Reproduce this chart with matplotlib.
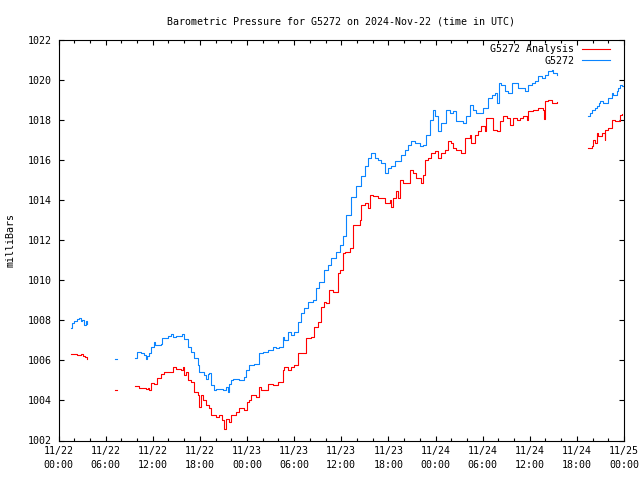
import matplotlib
matplotlib.use("Agg")
import matplotlib.pyplot as plt
import matplotlib.dates as mdates
from datetime import datetime, timedelta

# hours after 2024-11-22 00:00 UTC, pressure in mb
# each series is broken into pieces where the record has gaps
obs_hours = [
    [1.63, 1.66, 1.98, 2.36, 2.61, 2.87, 3.0, 3.25, 3.44, 3.64],
    [7.2, 7.46],
    [9.76, 10.05, 10.48, 10.9, 11.12, 11.33, 11.54, 11.76, 12.18, 12.24,
     13.04, 13.24, 13.88, 14.31, 14.52, 14.95, 15.71, 16.0, 16.43, 16.86,
     17.28, 17.7, 17.92, 18.56, 18.78, 18.98, 19.2, 19.41, 19.83, 20.05,
     20.47, 20.89, 21.33, 21.53, 21.75, 21.96, 22.26, 23.02, 23.66, 23.88,
     24.21, 24.94, 25.57, 26.0, 26.63, 27.27, 27.7, 28.13, 28.55, 28.76,
     29.18, 29.62, 30.04, 30.46, 30.89, 31.31, 31.73, 32.37, 32.81, 33.23,
     33.86, 34.29, 34.72, 35.36, 35.78, 36.2, 36.63, 37.27, 37.91, 38.55,
     38.97, 39.39, 39.82, 40.24, 40.66, 41.1, 41.52, 41.94, 42.37, 42.79,
     43.21, 43.65, 44.07, 44.49, 44.92, 45.34, 45.98, 46.4, 46.84, 47.26,
     47.69, 47.9, 48.32, 48.76, 49.39, 49.81, 50.23, 50.66, 51.08, 51.51,
     51.94, 52.36, 52.78, 53.21, 53.63, 54.06, 54.69, 55.13, 55.55, 55.77,
     56.1, 56.4, 56.82, 57.25, 57.68, 58.1, 58.52, 58.95, 59.38, 59.8,
     60.23, 60.66, 61.08, 61.51, 61.93, 62.36, 62.79, 62.99, 63.42],
    [67.45, 67.66, 67.88, 68.3, 68.52, 68.81, 68.94, 69.36, 69.8, 70.0,
     70.43, 70.64, 71.07, 71.28, 71.49, 71.71, 72.0],
]
obs_mb = [
    [1007.6, 1007.85, 1007.95, 1008.05, 1008.1, 1007.95, 1008.0, 1007.75, 1007.95, 1007.8],
    [1006.08, 1006.08],
    [1006.09, 1006.39, 1006.37, 1006.25, 1006.04, 1006.2, 1006.34, 1006.67, 1006.92, 1006.75,
     1006.79, 1007.09, 1007.2, 1007.29, 1007.17, 1007.2, 1007.29, 1007.04, 1006.67, 1006.42,
     1006.09, 1005.75, 1005.42, 1005.25, 1005.09, 1005.34, 1005.37, 1004.75, 1004.5, 1004.59,
     1004.59, 1004.5, 1004.67, 1004.42, 1004.84, 1005.0, 1005.09, 1005.04, 1005.17, 1005.5,
     1005.75, 1005.84, 1006.34, 1006.42, 1006.5, 1006.67, 1006.59, 1006.67, 1007.17, 1007.0,
     1007.42, 1007.25, 1007.42, 1007.92, 1008.34, 1008.59, 1008.92, 1009.0, 1009.59, 1009.92,
     1010.5, 1010.75, 1011.09, 1011.42, 1011.75, 1012.2, 1013.25, 1014.15, 1014.67, 1015.17,
     1015.67, 1016.09, 1016.34, 1016.09, 1016.0, 1015.84, 1015.34, 1015.59, 1015.67, 1015.92,
     1015.92, 1016.25, 1016.5, 1016.75, 1016.92, 1016.84, 1016.67, 1016.75, 1017.25, 1018.0,
     1018.5, 1018.17, 1017.42, 1017.84, 1018.5, 1018.34, 1018.42, 1017.92, 1017.92, 1017.84,
     1018.17, 1018.75, 1018.5, 1018.34, 1018.34, 1018.59, 1019.09, 1019.25, 1019.34, 1018.84,
     1019.84, 1019.75, 1019.42, 1019.34, 1019.84, 1019.84, 1019.59, 1019.59, 1019.42, 1019.75,
     1019.84, 1019.92, 1020.17, 1020.09, 1020.25, 1020.42, 1020.5, 1020.34, 1020.25],
    [1018.17, 1018.34, 1018.5, 1018.59, 1018.67, 1018.84, 1018.92, 1018.84, 1018.84, 1019.09,
     1019.34, 1019.25, 1019.42, 1019.59, 1019.75, 1019.67, 1019.8],
]

ana_hours = [
    [1.63, 2.36, 2.87, 3.13, 3.38, 3.64],
    [7.2, 7.46],
    [9.76, 10.27, 10.69, 11.12, 11.42, 11.54, 11.76, 12.18, 12.6, 13.04,
     13.46, 14.1, 14.52, 14.95, 15.59, 15.79, 16.0, 16.22, 16.43, 16.86,
     17.28, 17.7, 17.92, 18.14, 18.34, 18.78, 19.2, 19.41, 20.05, 20.47,
     20.82, 21.02, 21.33, 21.75, 21.96, 22.6, 23.02, 23.44, 23.66, 23.95,
     24.21, 24.51, 25.15, 25.57, 25.78, 26.43, 26.63, 27.27, 27.91, 28.34,
     28.55, 28.76, 29.18, 29.62, 30.04, 30.46, 31.31, 31.52, 32.17, 32.59,
     33.01, 33.44, 33.86, 34.08, 34.5, 34.92, 35.36, 35.56, 35.78, 36.2,
     36.42, 37.06, 37.48, 37.91, 38.33, 38.55, 38.97, 39.39, 39.6, 40.03,
     40.66, 41.1, 41.52, 42.16, 42.37, 42.58, 43.01, 43.21, 43.43, 43.85,
     44.49, 44.71, 45.13, 45.56, 45.98, 46.2, 46.4, 46.62, 47.04, 47.47,
     47.9, 48.32, 48.76, 49.18, 49.59, 50.03, 50.23, 50.66, 51.3, 51.72,
     52.36, 52.58, 53.0, 53.42, 53.85, 54.27, 54.49, 54.91, 55.33, 55.77,
     56.19, 56.61, 57.04, 57.46, 57.88, 58.32, 58.74, 59.17, 59.6, 59.8,
     60.43, 61.08, 61.71, 61.8, 61.93, 62.36, 62.79, 63.42],
    [67.45, 67.88, 68.09, 68.3, 68.52, 68.72, 69.16, 69.58, 69.64, 70.0,
     70.43, 70.85, 71.28, 71.49, 71.71],
]
ana_mb = [
    [1006.3, 1006.28, 1006.3, 1006.2, 1006.15, 1006.05],
    [1004.53, 1004.53],
    [1004.7, 1004.64, 1004.62, 1004.59, 1004.6, 1004.5, 1004.87, 1004.84, 1005.14, 1005.34,
     1005.42, 1005.42, 1005.67, 1005.59, 1005.54, 1005.67, 1005.25, 1005.42, 1005.0, 1004.92,
     1004.42, 1004.25, 1003.67, 1004.25, 1004.0, 1003.75, 1003.64, 1003.25, 1003.17, 1003.29,
     1003.0, 1002.59, 1003.09, 1002.92, 1003.25, 1003.42, 1003.64, 1003.64, 1003.5, 1003.92,
     1004.0, 1004.25, 1004.17, 1004.67, 1004.5, 1004.5, 1004.84, 1004.75, 1004.92, 1004.92,
     1005.5, 1005.67, 1005.5, 1005.67, 1005.75, 1006.34, 1006.34, 1007.09, 1007.17, 1007.67,
     1007.92, 1008.67, 1008.92, 1008.84, 1009.5, 1009.42, 1009.42, 1010.34, 1010.5, 1011.34,
     1011.42, 1011.59, 1012.75, 1012.75, 1013.0, 1013.75, 1013.84, 1013.59, 1014.25, 1014.17,
     1014.09, 1014.09, 1013.84, 1014.0, 1013.64, 1014.09, 1014.42, 1014.09, 1015.0, 1014.84,
     1014.84, 1015.5, 1015.34, 1015.09, 1015.09, 1014.84, 1015.25, 1016.0, 1016.09, 1016.34,
     1016.42, 1016.09, 1016.34, 1016.5, 1016.92, 1016.84, 1016.59, 1016.5, 1016.34, 1017.09,
     1017.25, 1016.84, 1017.25, 1017.42, 1017.67, 1017.42, 1018.09, 1018.09, 1017.5, 1017.42,
     1017.92, 1018.17, 1018.09, 1017.75, 1018.09, 1018.0, 1018.09, 1018.17, 1018.0, 1018.42,
     1018.5, 1018.59, 1018.5, 1018.03, 1018.92, 1019.0, 1018.84, 1018.87],
    [1016.59, 1016.67, 1017.0, 1016.84, 1017.34, 1017.17, 1017.34, 1017.0, 1017.5, 1017.59,
     1018.0, 1017.92, 1017.92, 1018.25, 1018.3],
]

start = datetime(2024, 11, 22)
end = datetime(2024, 11, 25)

def to_dates(hrs):
    return [start + timedelta(hours=h) for h in hrs]

plt.rcParams["font.family"] = ["DejaVu Sans Mono"]
plt.rcParams["font.size"] = 7.2

fig = plt.figure(figsize=(6.4, 4.8), dpi=100)
# axes box measured from the top of the picture, so flip it
ax = fig.add_axes([58.5 / 640, 1 - 440.5 / 480, 565.5 / 640, 401 / 480])

red = "#ff0000"
blue = "#0a84ff"

for i, (h, v) in enumerate(zip(ana_hours, ana_mb)):
    ax.plot(to_dates(h), v, color=red, lw=0.8, drawstyle="steps-post",
            label="G5272 Analysis" if i == 0 else None)
for i, (h, v) in enumerate(zip(obs_hours, obs_mb)):
    ax.plot(to_dates(h), v, color=blue, lw=0.8, drawstyle="steps-post",
            label="G5272" if i == 0 else None)

ax.set_xlim(start, end)
ax.set_ylim(1002, 1022)
ax.set_yticks(range(1002, 1023, 2))

ax.xaxis.set_major_locator(mdates.HourLocator(byhour=[0, 6, 12, 18]))
ax.xaxis.set_minor_locator(mdates.HourLocator(byhour=range(0, 24, 2)))
ax.xaxis.set_major_formatter(mdates.DateFormatter("%m/%d\n%H:%M"))

ax.tick_params(which="both", direction="in", top=True, right=True, width=0.8)
ax.tick_params(which="major", length=3.5)
ax.tick_params(which="minor", length=2.0)
ax.tick_params(axis="x", pad=4)
ax.tick_params(axis="y", pad=4.5)
for lab in ax.get_xticklabels():
    lab.set_linespacing(1.45)
for s in ax.spines.values():
    s.set_linewidth(0.8)

ax.set_ylabel("milliBars", labelpad=9)
ax.set_title("Barometric Pressure for G5272 on 2024-Nov-22 (time in UTC)",
             fontsize=7.2, pad=11)

ax.legend(loc="upper right", bbox_to_anchor=(610 / 640, 1 - 44 / 480),
          bbox_transform=fig.transFigure, frameon=False, markerfirst=False,
          borderpad=0, borderaxespad=0, handlelength=2.8, handletextpad=0.75,
          labelspacing=0.17)

fig.savefig("out.png", dpi=100)
